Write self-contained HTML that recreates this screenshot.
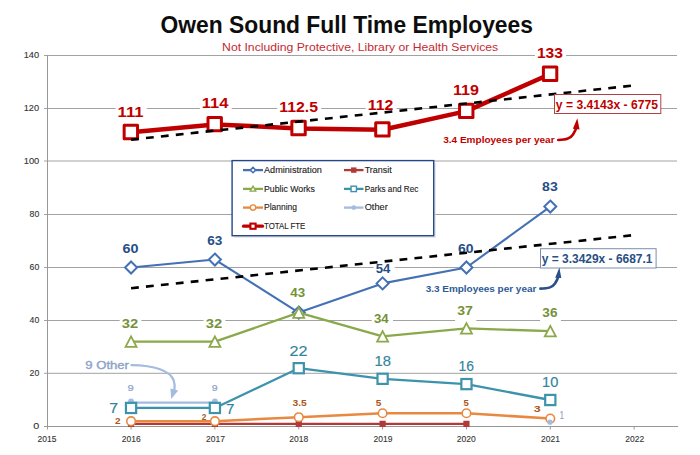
<!DOCTYPE html><html><head><meta charset="utf-8"><style>html,body{margin:0;padding:0;background:#fff;overflow:hidden}svg{display:block}text{font-family:"Liberation Sans",Arial,sans-serif}</style></head><body><svg width="700" height="455" viewBox="0 0 700 455"><rect width="700" height="455" fill="#fff"/><g stroke="#A2A2A2" stroke-width="1"><line x1="44" y1="55.50" x2="677" y2="55.50"/><line x1="44" y1="108.50" x2="677" y2="108.50"/><line x1="44" y1="161.00" x2="677" y2="161.00"/><line x1="44" y1="214.50" x2="677" y2="214.50"/><line x1="44" y1="267.50" x2="677" y2="267.50"/><line x1="44" y1="320.50" x2="677" y2="320.50"/><line x1="44" y1="373.30" x2="677" y2="373.30"/></g><rect x="115.5" y="102.5" width="31.3" height="20.0" fill="#fff"/><rect x="199.8" y="93.9" width="31.9" height="20.7" fill="#fff"/><rect x="277.2" y="97.5" width="44.0" height="20.3" fill="#fff"/><rect x="365.7" y="95.9" width="30.9" height="19.9" fill="#fff"/><rect x="450.9" y="80.2" width="31.2" height="20.6" fill="#fff"/><rect x="534.9" y="43.5" width="31.2" height="20.6" fill="#fff"/><rect x="120.4" y="240.1" width="21.5" height="18.5" fill="#fff"/><rect x="205.1" y="232.5" width="20.7" height="18.5" fill="#fff"/><rect x="373.6" y="260.8" width="21.2" height="18.4" fill="#fff"/><rect x="455.9" y="240.6" width="21.1" height="18.0" fill="#fff"/><rect x="539.9" y="178.6" width="21.2" height="18.2" fill="#fff"/><rect x="119.7" y="314.2" width="21.7" height="19.5" fill="#fff"/><rect x="203.6" y="314.2" width="21.7" height="19.5" fill="#fff"/><rect x="287.1" y="284.6" width="21.4" height="18.1" fill="#fff"/><rect x="371.7" y="310.8" width="21.3" height="18.4" fill="#fff"/><rect x="455.1" y="302.6" width="21.2" height="18.4" fill="#fff"/><rect x="540.1" y="304.6" width="20.8" height="18.0" fill="#fff"/><g stroke="#989898" stroke-width="1"><line x1="44" y1="426.50" x2="678" y2="426.50"/><line x1="47.5" y1="55" x2="47.5" y2="429.50"/><line x1="131.05" y1="426.50" x2="131.05" y2="429.50"/><line x1="214.90" y1="426.50" x2="214.90" y2="429.50"/><line x1="298.75" y1="426.50" x2="298.75" y2="429.50"/><line x1="382.60" y1="426.50" x2="382.60" y2="429.50"/><line x1="466.45" y1="426.50" x2="466.45" y2="429.50"/><line x1="550.30" y1="426.50" x2="550.30" y2="429.50"/><line x1="634.15" y1="426.50" x2="634.15" y2="429.50"/></g><polyline points="131.05,267.50 214.90,259.55 298.75,312.55 382.60,283.40 466.45,267.50 550.30,206.55" fill="none" stroke="#4471B3" stroke-width="2.10" stroke-linejoin="round" stroke-linecap="round"/><polygon points="131.05,261.50 137.05,267.50 131.05,273.50 125.05,267.50" fill="#fff" stroke="#4471B3" stroke-width="2.00"/><polygon points="214.90,253.55 220.90,259.55 214.90,265.55 208.90,259.55" fill="#fff" stroke="#4471B3" stroke-width="2.00"/><polygon points="298.75,306.55 304.75,312.55 298.75,318.55 292.75,312.55" fill="#fff" stroke="#4471B3" stroke-width="2.00"/><polygon points="382.60,277.40 388.60,283.40 382.60,289.40 376.60,283.40" fill="#fff" stroke="#4471B3" stroke-width="2.00"/><polygon points="466.45,261.50 472.45,267.50 466.45,273.50 460.45,267.50" fill="#fff" stroke="#4471B3" stroke-width="2.00"/><polygon points="550.30,200.55 556.30,206.55 550.30,212.55 544.30,206.55" fill="#fff" stroke="#4471B3" stroke-width="2.00"/><polyline points="131.05,423.85 214.90,423.85 298.75,423.85 382.60,423.85 466.45,423.85" fill="none" stroke="#B03A3A" stroke-width="2.20" stroke-linejoin="round" stroke-linecap="round"/><rect x="127.95" y="420.75" width="6.20" height="6.20" fill="#B03A3A" stroke="#B03A3A" stroke-width="0.00" stroke-linejoin="miter"/><rect x="211.80" y="420.75" width="6.20" height="6.20" fill="#B03A3A" stroke="#B03A3A" stroke-width="0.00" stroke-linejoin="miter"/><rect x="295.65" y="420.75" width="6.20" height="6.20" fill="#B03A3A" stroke="#B03A3A" stroke-width="0.00" stroke-linejoin="miter"/><rect x="379.50" y="420.75" width="6.20" height="6.20" fill="#B03A3A" stroke="#B03A3A" stroke-width="0.00" stroke-linejoin="miter"/><rect x="463.35" y="420.75" width="6.20" height="6.20" fill="#B03A3A" stroke="#B03A3A" stroke-width="0.00" stroke-linejoin="miter"/><polyline points="131.05,341.70 214.90,341.70 298.75,312.55 382.60,336.40 466.45,328.45 550.30,331.10" fill="none" stroke="#8BA84A" stroke-width="2.30" stroke-linejoin="round" stroke-linecap="round"/><polygon points="131.05,336.45 136.55,346.95 125.55,346.95" fill="#fff" stroke="#8BA84A" stroke-width="1.80" stroke-linejoin="miter"/><polygon points="214.90,336.45 220.40,346.95 209.40,346.95" fill="#fff" stroke="#8BA84A" stroke-width="1.80" stroke-linejoin="miter"/><polygon points="298.75,307.30 304.25,317.80 293.25,317.80" fill="#fff" stroke="#8BA84A" stroke-width="1.80" stroke-linejoin="miter"/><polygon points="382.60,331.15 388.10,341.65 377.10,341.65" fill="#fff" stroke="#8BA84A" stroke-width="1.80" stroke-linejoin="miter"/><polygon points="466.45,323.20 471.95,333.70 460.95,333.70" fill="#fff" stroke="#8BA84A" stroke-width="1.80" stroke-linejoin="miter"/><polygon points="550.30,325.85 555.80,336.35 544.80,336.35" fill="#fff" stroke="#8BA84A" stroke-width="1.80" stroke-linejoin="miter"/><polyline points="131.05,402.65 214.90,402.65" fill="none" stroke="#A3BCE0" stroke-width="2.30" stroke-linejoin="round" stroke-linecap="round"/><circle cx="131.05" cy="401.45" r="2.90" fill="#A3BCE0" stroke="#A3BCE0" stroke-width="0.00"/><circle cx="214.90" cy="401.45" r="2.90" fill="#A3BCE0" stroke="#A3BCE0" stroke-width="0.00"/><polyline points="131.05,407.95 214.90,407.95 298.75,368.20 382.60,378.80 466.45,384.10 550.30,400.00" fill="none" stroke="#3C93AB" stroke-width="2.30" stroke-linejoin="round" stroke-linecap="round"/><rect x="125.95" y="402.85" width="10.20" height="10.20" fill="#fff" stroke="#3C93AB" stroke-width="2.20" stroke-linejoin="miter"/><rect x="209.80" y="402.85" width="10.20" height="10.20" fill="#fff" stroke="#3C93AB" stroke-width="2.20" stroke-linejoin="miter"/><rect x="293.65" y="363.10" width="10.20" height="10.20" fill="#fff" stroke="#3C93AB" stroke-width="2.20" stroke-linejoin="miter"/><rect x="377.50" y="373.70" width="10.20" height="10.20" fill="#fff" stroke="#3C93AB" stroke-width="2.20" stroke-linejoin="miter"/><rect x="461.35" y="379.00" width="10.20" height="10.20" fill="#fff" stroke="#3C93AB" stroke-width="2.20" stroke-linejoin="miter"/><rect x="545.20" y="394.90" width="10.20" height="10.20" fill="#fff" stroke="#3C93AB" stroke-width="2.20" stroke-linejoin="miter"/><polyline points="131.05,421.20 214.90,421.20 298.75,417.23 382.60,413.25 466.45,413.25 550.30,418.55" fill="none" stroke="#E9893F" stroke-width="2.50" stroke-linejoin="round" stroke-linecap="round"/><circle cx="131.05" cy="421.20" r="4.30" fill="#fff" stroke="#E9893F" stroke-width="1.60"/><circle cx="214.90" cy="421.20" r="4.30" fill="#fff" stroke="#E9893F" stroke-width="1.60"/><circle cx="298.75" cy="417.23" r="4.30" fill="#fff" stroke="#E9893F" stroke-width="1.60"/><circle cx="382.60" cy="413.25" r="4.30" fill="#fff" stroke="#E9893F" stroke-width="1.60"/><circle cx="466.45" cy="413.25" r="4.30" fill="#fff" stroke="#E9893F" stroke-width="1.60"/><circle cx="550.30" cy="418.55" r="4.30" fill="#fff" stroke="#E9893F" stroke-width="1.60"/><circle cx="550.00" cy="422.20" r="2.60" fill="#A3BCE0" stroke="#A3BCE0" stroke-width="0.00"/><polyline points="131.05,132.35 214.90,124.40 298.75,128.38 382.60,129.70 466.45,111.15 550.30,74.05" fill="none" stroke="#C00000" stroke-width="4.50" stroke-linejoin="round" stroke-linecap="round"/><rect x="124.15" y="125.35" width="13.40" height="13.40" fill="#fff" stroke="#C00000" stroke-width="3.00" stroke-linejoin="round"/><rect x="208.00" y="117.40" width="13.40" height="13.40" fill="#fff" stroke="#C00000" stroke-width="3.00" stroke-linejoin="round"/><rect x="291.85" y="121.37" width="13.40" height="13.40" fill="#fff" stroke="#C00000" stroke-width="3.00" stroke-linejoin="round"/><rect x="375.70" y="122.70" width="13.40" height="13.40" fill="#fff" stroke="#C00000" stroke-width="3.00" stroke-linejoin="round"/><rect x="459.55" y="104.15" width="13.40" height="13.40" fill="#fff" stroke="#C00000" stroke-width="3.00" stroke-linejoin="round"/><rect x="543.40" y="67.05" width="13.40" height="13.40" fill="#fff" stroke="#C00000" stroke-width="3.00" stroke-linejoin="round"/><text x="160.62" y="33.00" font-size="23.60" textLength="372.30" lengthAdjust="spacingAndGlyphs" fill="#0D0D0D" font-weight="bold">Owen Sound Full Time Employees</text><text x="222.10" y="51.30" font-size="11.60" textLength="276.06" lengthAdjust="spacingAndGlyphs" fill="#C42A32">Not Including Protective, Library or Health Services</text><text x="33.34" y="429.05" font-size="8.40" textLength="6.01" lengthAdjust="spacingAndGlyphs" fill="#333333" stroke="#333333" stroke-width="0.10">0</text><text x="29.54" y="376.05" font-size="8.40" textLength="9.72" lengthAdjust="spacingAndGlyphs" fill="#333333" stroke="#333333" stroke-width="0.10">20</text><text x="29.54" y="323.05" font-size="8.40" textLength="9.72" lengthAdjust="spacingAndGlyphs" fill="#333333" stroke="#333333" stroke-width="0.10">40</text><text x="29.54" y="270.05" font-size="8.40" textLength="9.72" lengthAdjust="spacingAndGlyphs" fill="#333333" stroke="#333333" stroke-width="0.10">60</text><text x="29.54" y="217.05" font-size="8.40" textLength="9.72" lengthAdjust="spacingAndGlyphs" fill="#333333" stroke="#333333" stroke-width="0.10">80</text><text x="23.74" y="164.05" font-size="8.40" textLength="15.51" lengthAdjust="spacingAndGlyphs" fill="#333333" stroke="#333333" stroke-width="0.10">100</text><text x="23.74" y="111.05" font-size="8.40" textLength="15.43" lengthAdjust="spacingAndGlyphs" fill="#333333" stroke="#333333" stroke-width="0.10">120</text><text x="23.74" y="58.05" font-size="8.40" textLength="15.43" lengthAdjust="spacingAndGlyphs" fill="#333333" stroke="#333333" stroke-width="0.10">140</text><text x="37.50" y="442.00" font-size="8.38" textLength="18.85" lengthAdjust="spacingAndGlyphs" fill="#333333" stroke="#333333" stroke-width="0.10">2015</text><text x="121.75" y="442.00" font-size="8.38" textLength="18.85" lengthAdjust="spacingAndGlyphs" fill="#333333" stroke="#333333" stroke-width="0.10">2016</text><text x="206.00" y="442.00" font-size="8.38" textLength="18.85" lengthAdjust="spacingAndGlyphs" fill="#333333" stroke="#333333" stroke-width="0.10">2017</text><text x="289.25" y="442.00" font-size="8.38" textLength="18.85" lengthAdjust="spacingAndGlyphs" fill="#333333" stroke="#333333" stroke-width="0.10">2018</text><text x="373.50" y="442.00" font-size="8.38" textLength="18.91" lengthAdjust="spacingAndGlyphs" fill="#333333" stroke="#333333" stroke-width="0.10">2019</text><text x="456.75" y="442.00" font-size="8.38" textLength="18.91" lengthAdjust="spacingAndGlyphs" fill="#333333" stroke="#333333" stroke-width="0.10">2020</text><text x="541.00" y="442.00" font-size="8.38" textLength="18.85" lengthAdjust="spacingAndGlyphs" fill="#333333" stroke="#333333" stroke-width="0.10">2021</text><text x="625.25" y="442.00" font-size="8.38" textLength="18.85" lengthAdjust="spacingAndGlyphs" fill="#333333" stroke="#333333" stroke-width="0.10">2022</text><text x="117.56" y="116.66" font-size="15.13" textLength="25.95" lengthAdjust="spacingAndGlyphs" fill="#C00000" font-weight="bold">111</text><text x="201.80" y="108.49" font-size="15.13" textLength="26.66" lengthAdjust="spacingAndGlyphs" fill="#C00000" font-weight="bold">114</text><text x="279.24" y="111.87" font-size="15.13" textLength="38.69" lengthAdjust="spacingAndGlyphs" fill="#C00000" font-weight="bold">112.5</text><text x="367.77" y="109.70" font-size="15.13" textLength="25.55" lengthAdjust="spacingAndGlyphs" fill="#C00000" font-weight="bold">112</text><text x="452.91" y="94.67" font-size="15.13" textLength="25.97" lengthAdjust="spacingAndGlyphs" fill="#C00000" font-weight="bold">119</text><text x="536.91" y="57.61" font-size="15.13" textLength="26.02" lengthAdjust="spacingAndGlyphs" fill="#C00000" font-weight="bold">133</text><text x="122.59" y="252.70" font-size="12.29" textLength="15.97" lengthAdjust="spacingAndGlyphs" fill="#264D86" font-weight="bold">60</text><text x="207.29" y="245.49" font-size="12.29" textLength="15.12" lengthAdjust="spacingAndGlyphs" fill="#264D86" font-weight="bold">63</text><text x="375.80" y="273.33" font-size="12.29" textLength="14.62" lengthAdjust="spacingAndGlyphs" fill="#264D86" font-weight="bold">54</text><text x="458.13" y="253.19" font-size="12.29" textLength="15.50" lengthAdjust="spacingAndGlyphs" fill="#264D86" font-weight="bold">60</text><text x="542.11" y="191.39" font-size="12.29" textLength="15.63" lengthAdjust="spacingAndGlyphs" fill="#264D86" font-weight="bold">83</text><text x="121.80" y="327.57" font-size="12.29" textLength="16.41" lengthAdjust="spacingAndGlyphs" fill="#74913A" font-weight="bold">32</text><text x="205.70" y="327.57" font-size="12.29" textLength="16.41" lengthAdjust="spacingAndGlyphs" fill="#74913A" font-weight="bold">32</text><text x="290.32" y="297.29" font-size="12.29" textLength="14.83" lengthAdjust="spacingAndGlyphs" fill="#74913A" font-weight="bold">43</text><text x="373.90" y="323.33" font-size="12.29" textLength="14.72" lengthAdjust="spacingAndGlyphs" fill="#74913A" font-weight="bold">34</text><text x="457.30" y="315.47" font-size="12.29" textLength="15.66" lengthAdjust="spacingAndGlyphs" fill="#74913A" font-weight="bold">37</text><text x="542.33" y="317.19" font-size="12.29" textLength="15.12" lengthAdjust="spacingAndGlyphs" fill="#74913A" font-weight="bold">36</text><text x="109.35" y="413.15" font-size="14.54" textLength="8.93" lengthAdjust="spacingAndGlyphs" fill="#31849B" stroke="#31849B" stroke-width="0.15">7</text><text x="225.91" y="413.52" font-size="14.54" textLength="8.48" lengthAdjust="spacingAndGlyphs" fill="#31849B" stroke="#31849B" stroke-width="0.15">7</text><text x="289.43" y="355.52" font-size="14.54" textLength="18.04" lengthAdjust="spacingAndGlyphs" fill="#31849B" stroke="#31849B" stroke-width="0.15">22</text><text x="374.55" y="366.41" font-size="14.54" textLength="16.42" lengthAdjust="spacingAndGlyphs" fill="#31849B" stroke="#31849B" stroke-width="0.15">18</text><text x="458.57" y="371.49" font-size="14.54" textLength="15.45" lengthAdjust="spacingAndGlyphs" fill="#31849B" stroke="#31849B" stroke-width="0.15">16</text><text x="542.03" y="386.99" font-size="14.54" textLength="16.29" lengthAdjust="spacingAndGlyphs" fill="#31849B" stroke="#31849B" stroke-width="0.15">10</text><text x="115.12" y="423.50" font-size="9.60" textLength="5.57" lengthAdjust="spacingAndGlyphs" fill="#A8581A" font-weight="bold">2</text><text x="201.74" y="419.80" font-size="9.60" textLength="4.62" lengthAdjust="spacingAndGlyphs" fill="#A8581A" font-weight="bold">2</text><text x="292.51" y="406.30" font-size="9.60" textLength="14.28" lengthAdjust="spacingAndGlyphs" fill="#A8581A" font-weight="bold">3.5</text><text x="375.77" y="406.00" font-size="9.60" textLength="5.62" lengthAdjust="spacingAndGlyphs" fill="#A8581A" font-weight="bold">5</text><text x="463.57" y="406.00" font-size="9.60" textLength="5.26" lengthAdjust="spacingAndGlyphs" fill="#A8581A" font-weight="bold">5</text><text x="533.85" y="412.30" font-size="9.60" textLength="6.91" lengthAdjust="spacingAndGlyphs" fill="#A8581A" font-weight="bold">3</text><text x="127.48" y="391.49" font-size="8.97" textLength="6.24" lengthAdjust="spacingAndGlyphs" fill="#8CA2C8" stroke="#8CA2C8" stroke-width="0.20">9</text><text x="211.78" y="391.49" font-size="8.97" textLength="5.87" lengthAdjust="spacingAndGlyphs" fill="#8CA2C8" stroke="#8CA2C8" stroke-width="0.20">9</text><text x="559.81" y="418.50" font-size="10.60" textLength="4.17" lengthAdjust="spacingAndGlyphs" fill="#8CA2C8" stroke="#8CA2C8" stroke-width="0.20">1</text><line x1="131.05" y1="139.69" x2="634.15" y2="85.41" stroke="#000" stroke-width="2.6" stroke-dasharray="7.8 7.2"/><line x1="131.05" y1="288.21" x2="634.15" y2="235.05" stroke="#000" stroke-width="2.6" stroke-dasharray="7.8 7.2"/><rect x="234.3" y="162.8" width="201.6" height="75.1" fill="#d8d8d8" opacity="0.7"/><rect x="232.1" y="160.6" width="201.6" height="75.1" fill="#fff" stroke="#24478A" stroke-width="1.4"/><line x1="243" y1="170.1" x2="263" y2="170.1" stroke="#4471B3" stroke-width="2.3"/><polygon points="253.00,167.40 255.70,170.10 253.00,172.80 250.30,170.10" fill="#fff" stroke="#4471B3" stroke-width="1.50"/><line x1="243" y1="188.9" x2="263" y2="188.9" stroke="#8BA84A" stroke-width="2.3"/><polygon points="253.00,186.10 255.80,191.10 250.20,191.10" fill="#fff" stroke="#8BA84A" stroke-width="1.30" stroke-linejoin="miter"/><line x1="243" y1="207.6" x2="263" y2="207.6" stroke="#E9893F" stroke-width="2.3"/><circle cx="253.00" cy="207.60" r="2.70" fill="#fff" stroke="#E9893F" stroke-width="1.40"/><line x1="243.5" y1="226.2" x2="262.5" y2="226.2" stroke="#C00000" stroke-width="3.2" stroke-linecap="round"/><rect x="250.40" y="223.60" width="5.20" height="5.20" fill="#fff" stroke="#C00000" stroke-width="2.10" stroke-linejoin="miter"/><line x1="344" y1="170.1" x2="363.5" y2="170.1" stroke="#B03A3A" stroke-width="2.3"/><rect x="351.05" y="167.40" width="5.40" height="5.40" fill="#B03A3A" stroke="#B03A3A" stroke-width="0.00" stroke-linejoin="miter"/><line x1="344" y1="188.9" x2="363.5" y2="188.9" stroke="#3C93AB" stroke-width="2.3"/><rect x="351.05" y="186.20" width="5.40" height="5.40" fill="#fff" stroke="#3C93AB" stroke-width="1.40" stroke-linejoin="miter"/><line x1="344" y1="207.6" x2="363.5" y2="207.6" stroke="#A3BCE0" stroke-width="2.3"/><circle cx="353.75" cy="207.60" r="2.40" fill="#A3BCE0" stroke="#A3BCE0" stroke-width="0.00"/><text x="264.00" y="172.80" font-size="8.60" textLength="57.84" lengthAdjust="spacingAndGlyphs" fill="#222222" stroke="#222222" stroke-width="0.12">Administration</text><text x="264.00" y="191.50" font-size="8.60" textLength="50.84" lengthAdjust="spacingAndGlyphs" fill="#222222" stroke="#222222" stroke-width="0.12">Public Works</text><text x="264.00" y="210.20" font-size="8.60" textLength="33.02" lengthAdjust="spacingAndGlyphs" fill="#222222" stroke="#222222" stroke-width="0.12">Planning</text><text x="264.00" y="228.90" font-size="8.60" textLength="41.37" lengthAdjust="spacingAndGlyphs" fill="#222222" stroke="#222222" stroke-width="0.12">TOTAL FTE</text><text x="364.70" y="172.80" font-size="8.60" textLength="27.11" lengthAdjust="spacingAndGlyphs" fill="#222222" stroke="#222222" stroke-width="0.12">Transit</text><text x="364.70" y="191.50" font-size="8.60" textLength="53.65" lengthAdjust="spacingAndGlyphs" fill="#222222" stroke="#222222" stroke-width="0.12">Parks and Rec</text><text x="364.70" y="210.20" font-size="8.60" textLength="23.05" lengthAdjust="spacingAndGlyphs" fill="#222222" stroke="#222222" stroke-width="0.12">Other</text><rect x="554.5" y="94.5" width="106.3" height="19" fill="#fff" stroke="#B04048" stroke-width="1"/><rect x="540.5" y="248.7" width="115.6" height="19.3" fill="#fff" stroke="#7C8FAE" stroke-width="1"/><path d="M131.4,365.1 C155,365.3 170,371 173.6,380 C174.8,383.5 174.9,386.5 174.4,390" fill="none" stroke="#A3BCE0" stroke-width="2.3" stroke-linecap="round"/><polygon points="170.4,388.6 178.2,390.6 171.2,399" fill="#A3BCE0"/><path d="M558.2,140 C566,139.6 570,139.2 573,134.5 C574.8,131.5 575.8,129.5 576.3,127.8" fill="none" stroke="#C00000" stroke-width="2.6" stroke-linecap="round"/><polygon points="572.9,128.8 579.6,129.4 577.3,118.2" fill="#C00000"/><path d="M540.4,288.6 C548,288.3 552,288 555,283.5 C556.9,280.5 557.7,278.6 558.2,276.8" fill="none" stroke="#2B4F86" stroke-width="2.6" stroke-linecap="round"/><polygon points="555.2,277.8 561.3,278.1 559.4,267.4" fill="#2B4F86"/><text x="85.25" y="368.90" font-size="11.26" textLength="43.74" lengthAdjust="spacingAndGlyphs" fill="#8CA2C8" stroke="#8CA2C8" stroke-width="0.35">9 Other</text><text x="555.85" y="108.60" font-size="12.09" textLength="102.09" lengthAdjust="spacingAndGlyphs" fill="#C00000" font-weight="bold">y = 3.4143x - 6775</text><text x="443.23" y="143.40" font-size="9.00" textLength="111.38" lengthAdjust="spacingAndGlyphs" fill="#C00000" font-weight="bold">3.4 Employees per year</text><text x="541.70" y="262.70" font-size="13.61" textLength="110.83" lengthAdjust="spacingAndGlyphs" fill="#2B4F86" font-weight="bold">y = 3.3429x - 6687.1</text><text x="425.65" y="291.60" font-size="9.00" textLength="110.73" lengthAdjust="spacingAndGlyphs" fill="#2E5A95" font-weight="bold">3.3 Employees per year</text></svg></body></html>
